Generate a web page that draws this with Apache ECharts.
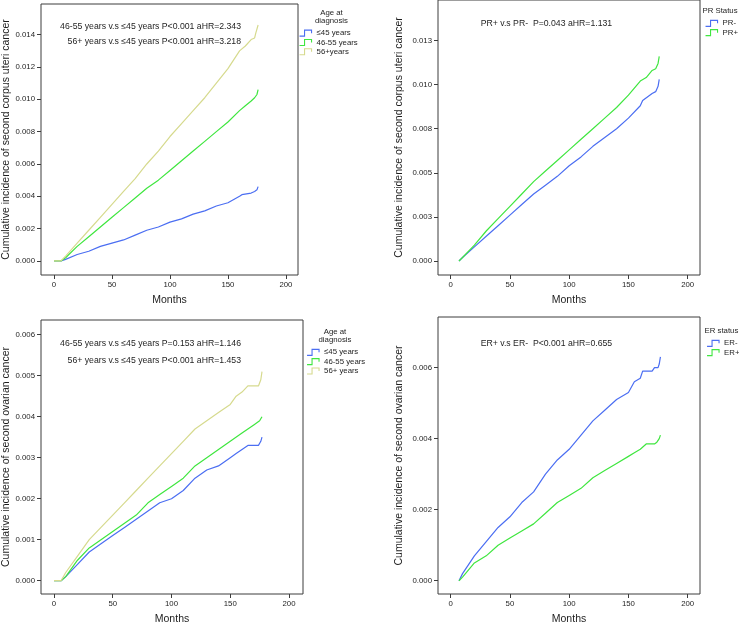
<!DOCTYPE html>
<html><head><meta charset="utf-8">
<script src="https://cdn.jsdelivr.net/npm/echarts@6/dist/echarts.min.js"></script>
<style>html,body{margin:0;padding:0;background:#fff}#c{width:739px;height:624px}</style>
</head><body><div id="c"></div>
<script>
// ---------- tick values ----------
const xTicks = [0, 50, 100, 150, 200];
const yTicksUteriAge = [0, 0.002, 0.004, 0.006, 0.008, 0.010, 0.012, 0.014];
const yTicksUteriPR = [0, 0.0025, 0.005, 0.0075, 0.010, 0.0125];
const yTicksOvaryAge = [0, 0.001, 0.002, 0.003, 0.004, 0.005, 0.006];
const yTicksOvaryER = [0, 0.002, 0.004, 0.006];

// ---------- data: [month, cumulative incidence] ----------
// Top-left: second corpus uteri cancer by age
const uteriAge45 = [[0,0],[6,0],[10,0.0001],[20,0.0004],[30,0.0006],[40,0.0009],[50,0.0011],[60,0.0013],[70,0.0016],[80,0.0019],[90,0.0021],[100,0.0024],[110,0.0026],[120,0.0029],[130,0.0031],[140,0.0034],[150,0.0036],[160,0.0040],[162,0.0041],[170,0.0042],[173,0.0043],[175,0.0044],[176,0.0046]];
const uteriAge4655 = [[0,0],[6,0],[10,0.0002],[20,0.0009],[30,0.0015],[40,0.0021],[50,0.0027],[60,0.0033],[70,0.0039],[80,0.0045],[90,0.0050],[100,0.0056],[110,0.0062],[120,0.0068],[130,0.0074],[140,0.0080],[150,0.0086],[160,0.0093],[165,0.0096],[170,0.0099],[173,0.0101],[175,0.0103],[176,0.0106]];
const uteriAge56 = [[0,0],[6,0],[10,0.0003],[20,0.0011],[30,0.0019],[40,0.0027],[50,0.0035],[60,0.0043],[70,0.0051],[80,0.0060],[90,0.0068],[100,0.0077],[110,0.0085],[120,0.0093],[130,0.0101],[140,0.0110],[150,0.0119],[160,0.0130],[165,0.0133],[170,0.0137],[173,0.0138],[174,0.0141],[176,0.0146]];
// Top-right: second corpus uteri cancer by PR status
const uteriPRneg = [[7,0],[10,0.0002],[20,0.0008],[30,0.0014],[40,0.0020],[50,0.0026],[60,0.0032],[70,0.0038],[80,0.0043],[90,0.0048],[100,0.0054],[110,0.0059],[120,0.0065],[130,0.0070],[140,0.0075],[150,0.0081],[160,0.0088],[162,0.0091],[170,0.0095],[173,0.0096],[175,0.0099],[176,0.0103]];
const uteriPRpos = [[7,0],[10,0.0002],[20,0.0009],[30,0.0017],[40,0.0024],[50,0.0031],[60,0.0038],[70,0.0045],[80,0.0051],[90,0.0057],[100,0.0063],[110,0.0069],[120,0.0075],[130,0.0081],[140,0.0087],[150,0.0094],[160,0.0102],[165,0.0104],[170,0.0108],[173,0.0109],[175,0.0112],[176,0.0116]];
// Bottom-left: second ovarian cancer by age
const ovaryAge45 = [[0,0],[6,0],[10,0.0001],[20,0.0004],[30,0.0007],[40,0.0009],[50,0.0011],[60,0.0013],[70,0.0015],[80,0.0017],[90,0.0019],[100,0.0020],[110,0.0022],[120,0.0025],[130,0.0027],[140,0.0028],[150,0.0030],[155,0.0031],[160,0.0032],[165,0.0033],[174,0.0033],[176,0.0034],[177,0.0035]];
const ovaryAge4655 = [[0,0],[6,0],[10,0.0001],[20,0.0005],[30,0.0008],[40,0.0010],[50,0.0012],[60,0.0014],[70,0.0016],[80,0.0019],[90,0.0021],[100,0.0023],[110,0.0025],[120,0.0028],[130,0.0030],[140,0.0032],[150,0.0034],[160,0.0036],[165,0.0037],[170,0.0038],[175,0.0039],[177,0.0040]];
const ovaryAge56 = [[0,0],[6,0],[10,0.0002],[20,0.0006],[30,0.0010],[40,0.0013],[50,0.0016],[60,0.0019],[70,0.0022],[80,0.0025],[90,0.0028],[100,0.0031],[110,0.0034],[120,0.0037],[130,0.0039],[140,0.0041],[150,0.0043],[155,0.0045],[160,0.0046],[165,0.00475],[174,0.00475],[176,0.0049],[177,0.0051]];
// Bottom-right: second ovarian cancer by ER status
const ovaryERneg = [[7,0],[10,0.0002],[20,0.0007],[30,0.0011],[40,0.0015],[50,0.0018],[60,0.0022],[70,0.0025],[80,0.0030],[90,0.0034],[100,0.0037],[110,0.0041],[120,0.0045],[130,0.0048],[140,0.0051],[150,0.0053],[155,0.0056],[160,0.0057],[162,0.0059],[170,0.0059],[172,0.0060],[175,0.0060],[176,0.0061],[177,0.0063]];
const ovaryERpos = [[7,0],[10,0.0001],[20,0.0005],[30,0.0007],[40,0.0010],[50,0.0012],[60,0.0014],[70,0.0016],[80,0.0019],[90,0.0022],[100,0.0024],[110,0.0026],[120,0.0029],[130,0.0031],[140,0.0033],[150,0.0035],[155,0.0036],[160,0.0037],[165,0.00385],[172,0.00385],[174,0.0039],[176,0.0040],[177,0.0041]];

// ---------- text ----------
const yTitleUteri = 'Cumulative incidence of second corpus uteri cancer';
const yTitleOvary = 'Cumulative incidence of second ovarian cancer';
const xTitle = 'Months';

// ---------- styles ----------
const FONT = "'Liberation Sans', Arial, sans-serif";
const BLUE = '#4b6ef2', GREEN = '#3fe63f', YELLOW = '#d6da8e';
const FRAME = '#3c3c3c', TXT = '#1e1e1e';
const LEGEND_ICON = 'path://M0,7L5,7L5,1L12,1L12,4';

const grids = [
  {left: 41, top: 4, width: 257, height: 271},
  {left: 438, top: 0, width: 262, height: 275},
  {left: 41, top: 320, width: 262, height: 274},
  {left: 438, top: 317, width: 262, height: 277}
];
const xRanges = [[-11.2, 210.4], [-10.7, 210.4], [-11.05, 211.9], [-10.7, 210.4]];
const yRanges = [[-0.00087, 0.0159], [-0.000794, 0.014796], [-0.000324, 0.006358], [-0.000374, 0.007424]];
const yTickSets = [yTicksUteriAge, yTicksUteriPR, yTicksOvaryAge, yTicksOvaryER];
const yTitles = [yTitleUteri, yTitleUteri, yTitleOvary, yTitleOvary];
const yNameGaps = [26.5, 33, 26.5, 33];
const xNameGaps = [19.5, 19.5, 20, 20];

const fmt3 = v => (Math.round(v * 1000 + 1e-6) / 1000).toFixed(3);

const xAxes = grids.map((g, i) => ({
  type: 'value', gridIndex: i, min: xRanges[i][0], max: xRanges[i][1],
  axisLine: {show: false, onZero: false}, splitLine: {show: false},
  axisTick: {show: true, inside: false, length: 4, customValues: xTicks, lineStyle: {color: FRAME, width: 1}},
  axisLabel: {customValues: xTicks, fontSize: 7.8, fontFamily: FONT, color: TXT, margin: 6},
  name: xTitle, nameLocation: 'middle', nameGap: xNameGaps[i],
  nameTextStyle: {fontSize: 10.5, fontFamily: FONT, color: TXT}
}));
const yAxes = grids.map((g, i) => ({
  type: 'value', gridIndex: i, min: yRanges[i][0], max: yRanges[i][1],
  axisLine: {show: false, onZero: false}, splitLine: {show: false},
  axisTick: {show: true, inside: false, length: 4, customValues: yTickSets[i], lineStyle: {color: FRAME, width: 1}},
  axisLabel: {customValues: yTickSets[i], fontSize: 7.8, fontFamily: FONT, color: TXT, margin: 6, formatter: fmt3},
  name: yTitles[i], nameLocation: 'middle', nameGap: yNameGaps[i],
  nameTextStyle: {fontSize: 10.5, fontFamily: FONT, color: TXT}
}));

function line(name, data, color, idx) {
  return {type: 'line', name, data, xAxisIndex: idx, yAxisIndex: idx, showSymbol: false, symbol: 'none',
    lineStyle: {color, width: 1.2}, itemStyle: {color}, silent: true, animation: false, z: 3};
}
const series = [
  line('≤45 years', uteriAge45, BLUE, 0),
  line('46-55 years', uteriAge4655, GREEN, 0),
  line('56+years', uteriAge56, YELLOW, 0),
  line('PR-', uteriPRneg, BLUE, 1),
  line('PR+', uteriPRpos, GREEN, 1),
  line('≤45 years', ovaryAge45, BLUE, 2),
  line('46-55 years', ovaryAge4655, GREEN, 2),
  line('56+ years', ovaryAge56, YELLOW, 2),
  line('ER-', ovaryERneg, BLUE, 3),
  line('ER+', ovaryERpos, GREEN, 3)
];

function legendItem(name, color) {
  return {name, icon: LEGEND_ICON, itemStyle: {color: 'transparent', borderColor: color, borderWidth: 1.1}};
}
function legend(left, top, items) {
  return {left, top, orient: 'vertical', selectedMode: false, padding: 0, itemWidth: 12, itemHeight: 6, itemGap: 0,
    data: items, textStyle: {fontSize: 7.8, fontFamily: FONT, color: TXT, lineHeight: 9.3}};
}
const legends = [
  legend(299, 28.5, [legendItem('≤45 years', BLUE), legendItem('46-55 years', GREEN), legendItem('56+years', YELLOW)]),
  legend(705, 18.7, [legendItem('PR-', BLUE), legendItem('PR+', GREEN)]),
  legend(306.5, 347.7, [legendItem('≤45 years', BLUE), legendItem('46-55 years', GREEN), legendItem('56+ years', YELLOW)]),
  legend(706.5, 338.7, [legendItem('ER-', BLUE), legendItem('ER+', GREEN)])
];

function txt(x, y, text, align, size) {
  return {type: 'text', x, y, silent: true, style: {text, fontSize: size, fontFamily: FONT, fill: TXT, align, verticalAlign: 'middle', lineHeight: 8}};
}
const graphics = [
  txt(241, 27, '46-55 years v.s ≤45 years P<0.001 aHR=2.343', 'right', 8.7),
  txt(241, 41.3, '56+ years v.s ≤45 years P<0.001 aHR=3.218', 'right', 8.7),
  txt(480.7, 24, 'PR+ v.s PR-  P=0.043 aHR=1.131', 'left', 8.7),
  txt(241, 343.7, '46-55 years v.s ≤45 years P=0.153 aHR=1.146', 'right', 8.7),
  txt(241, 360.3, '56+ years v.s ≤45 years P<0.001 aHR=1.453', 'right', 8.7),
  txt(480.7, 343.7, 'ER+ v.s ER-  P<0.001 aHR=0.655', 'left', 8.7),
  txt(331.5, 17, 'Age at\ndiagnosis', 'center', 7.8),
  txt(335, 336, 'Age at\ndiagnosis', 'center', 7.8),
  txt(702.5, 10.7, 'PR Status', 'left', 7.8),
  txt(704.5, 330.5, 'ER status', 'left', 7.8)
];

const chart = echarts.init(document.getElementById('c'), null, {renderer: 'canvas'});
chart.setOption({
  animation: false,
  backgroundColor: '#ffffff',
  grid: grids.map(g => Object.assign({show: true, borderColor: FRAME, borderWidth: 1, backgroundColor: 'transparent',
    containLabel: false, outerBoundsMode: 'none'}, g)),
  xAxis: xAxes,
  yAxis: yAxes,
  legend: legends,
  series,
  graphic: graphics
});
</script>
</body></html>
